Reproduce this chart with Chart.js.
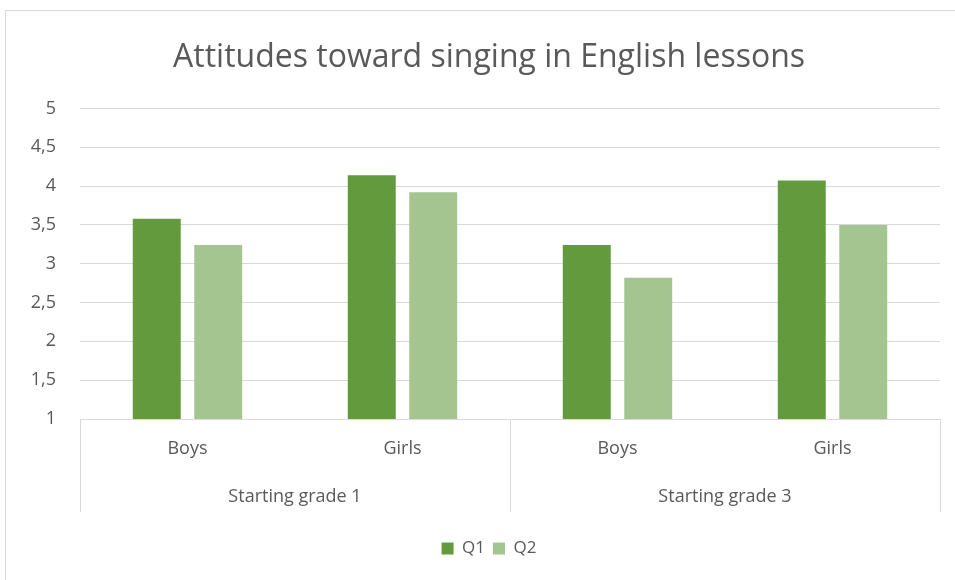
<!DOCTYPE html>
<html>
<head>
<meta charset="utf-8">
<title>Attitudes toward singing in English lessons</title>
<script src="https://cdn.jsdelivr.net/npm/chart.js@4/dist/chart.umd.min.js"></script>
<style>
  html, body { margin: 0; padding: 0; background: #fff; overflow: hidden; }
  #frame { position: absolute; left: 5px; top: 10px; width: 970px; height: 600px; border: 1px solid #d9d9d9; }
  #chart { position: absolute; left: 0; top: 0; }
</style>
</head>
<body>
<div id="frame"></div>
<canvas id="chart" width="955" height="580"></canvas>
<script>
  // 資料
  const categories = ['Boys', 'Girls', 'Boys', 'Girls'];
  const groups = ['Starting grade 1', 'Starting grade 3'];
  const seriesNames = ['Q1', 'Q2'];
  const q1 = [3.58, 4.14, 3.24, 4.07];
  const q2 = [3.24, 3.92, 2.82, 3.5];
  const yTicks = { min: 1, max: 5, step: 0.5 };

  const C = { q1: '#639A3E', q2: '#A4C590', grid: '#D9D9D9', text: '#595959' };
  const FONT = '"Open Sans", "Liberation Sans", sans-serif';
  const ROW_H = 47; // 第二層類別列的高度

  // 分組表格的直線（兩層類別軸）
  const groupLines = {
    id: 'groupLines',
    // 左側 padding 只為了讓標題 / 圖例置中位置接近原圖；y 軸刻度字不要被裁掉
    afterLayout(chart) { chart.scales.y.left = 0; },
    afterDraw(chart) {
      const { ctx, chartArea } = chart;
      const x = chart.scales.x, x2 = chart.scales.x2;
      const per = categories.length / groups.length;
      const xs = [chartArea.left, chartArea.right];
      for (let g = 1; g < groups.length; g++) {
        xs.push((x.getPixelForValue(g * per - 1) + x.getPixelForValue(g * per)) / 2);
      }
      ctx.save();
      ctx.strokeStyle = C.grid;
      ctx.lineWidth = 1;
      xs.forEach(px => {
        const p = Math.round(px) + 0.5;
        ctx.beginPath();
        ctx.moveTo(p, chartArea.bottom);
        ctx.lineTo(p, x2.top + ROW_H);
        ctx.stroke();
      });
      ctx.restore();
    }
  };

  new Chart(document.getElementById('chart'), {
    type: 'bar',
    data: {
      labels: categories,
      datasets: [
        { label: seriesNames[0], data: q1, backgroundColor: C.q1 },
        { label: seriesNames[1], data: q2, backgroundColor: C.q2 },
      ],
    },
    options: {
      responsive: false,
      animation: false,
      devicePixelRatio: 1,
      categoryPercentage: 0.572,
      barPercentage: 0.78,
      layout: { padding: { left: 38, right: 15, top: 0, bottom: 13 } },
      plugins: {
        title: {
          display: true,
          text: 'Attitudes toward singing in English lessons',
          color: C.text,
          font: { family: FONT, size: 32, weight: 'normal' },
          padding: { top: 39, bottom: 31 },
        },
        legend: {
          position: 'bottom',
          labels: {
            color: C.text, boxWidth: 12, boxHeight: 12, padding: 8,
            font: { family: FONT, size: 17 },
          },
        },
        tooltip: { enabled: false },
      },
      scales: {
        y: {
          min: yTicks.min, max: yTicks.max,
          grid: { color: C.grid, drawTicks: false },
          border: { display: false },
          ticks: {
            stepSize: yTicks.step, color: C.text, padding: 24,
            font: { family: FONT, size: 18 },
            callback: v => String(v).replace('.', ','),
          },
          afterFit: s => { s.width = 42; },
        },
        x: {
          grid: { display: false, drawTicks: false },
          border: { display: true, color: C.grid },
          ticks: { color: C.text, padding: 19, font: { family: FONT, size: 18 } },
          afterFit: s => { s.height = 46; },
        },
        x2: {
          type: 'category',
          labels: groups,
          position: 'bottom',
          grid: { display: false, drawTicks: false },
          border: { display: false },
          ticks: { color: C.text, padding: 21, font: { family: FONT, size: 18 } },
          afterFit: s => { s.height = ROW_H + 20; },
        },
      },
    },
    plugins: [groupLines],
  });
</script>
</body>
</html>
